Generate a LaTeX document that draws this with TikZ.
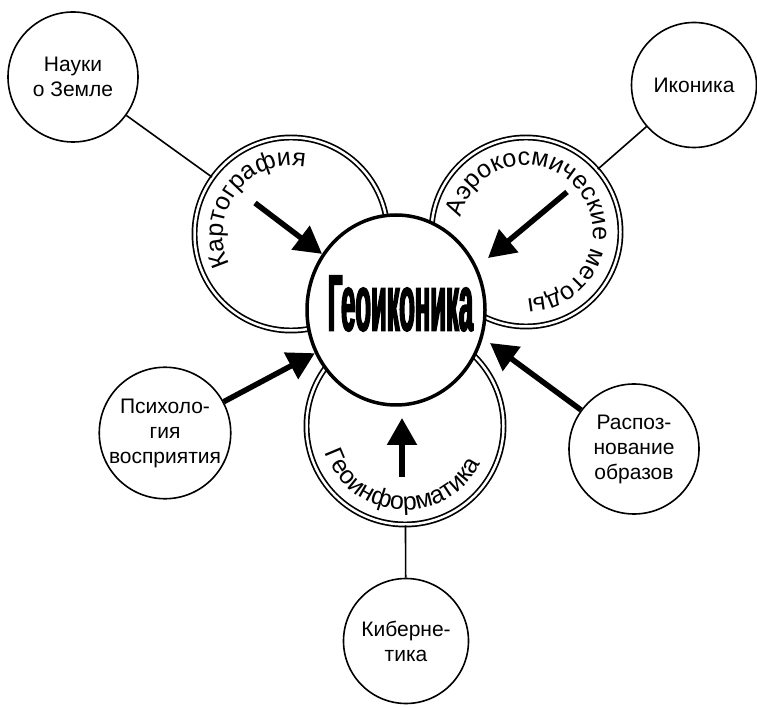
\documentclass[tikz,border=0pt]{standalone}
\usepackage{fontspec}
\setmainfont{Liberation Sans}
\newfontfamily\hubfont[FakeStretch=0.32,FakeBold=1.8]{Liberation Sans Bold}
\usepackage{tikz}
\usetikzlibrary{
  arrows.meta,
  positioning,
  shapes.geometric,
  decorations.text,
  calc
}
\newcommand\fieldfont{\fontsize{21}{25}\selectfont}
\newcommand\ringfont{\fontsize{25}{25}\selectfont}

\begin{document}
\begin{tikzpicture}[
    x=1pt, y=1pt,
    % Styles
    field/.style={
        circle, draw, line width=1.6pt,
        fill=white, text=black,
        minimum size=#1, inner sep=0pt,
        font=\fieldfont,
        align=center
    },
    ring/.style={
        circle, draw, line width=1.7pt,
        double=white, double distance=2.5pt,
        fill=white,
        minimum size=#1, inner sep=0pt
    },
    hub/.style={
        ellipse, draw, line width=3.5pt,
        fill=white,
        minimum width=178pt, minimum height=190pt,
        inner sep=0pt
    },
    link/.style={line width=1.6pt},
    push/.style={line width=5.5pt, -{Triangle[length=27pt,width=29pt]}},
    ringtext/.style={
        decorate,
        decoration={text along path, text align=center, text={|\ringfont|#1}}
    }
]
\useasboundingbox (0,0) rectangle (757,707);

% ── OUTER FIELDS ──
\node[field=130] (nauki) at (73,630) {Науки\\о Земле};
\node[field=125] (ikon) at (694,622) {Иконика};
\node[field=123] (psy) at (165,274) {Психоло-\\гия\\восприятия};
\node[field=130] (rasp) at (634,258) {Распоз-\\нование\\образов};
\node[field=125] (kiber) at (406,66) {Киберне-\\тика};

% ── RINGS ──
\node[ring=193] (karto) at (291,473) {};
\node[ring=189] (aero) at (526,475) {};
\node[ring=197] (geoinf) at (405,281) {};

\draw[link] (nauki) -- (karto);
\draw[link] (ikon) -- (aero);
\draw[link] (kiber) -- (geoinf);

\path[ringtext=Картография] ($(karto)+(207:68)$) arc[start angle=207, end angle=78, radius=68];
\path[ringtext=Аэрокосмические методы] ($(aero)+(164:67)$) arc[start angle=164, end angle=-86, radius=67];
\path[ringtext=Геоинформатика] ($(geoinf)+(197:84)$) arc[start angle=197, end angle=335, radius=84];

% ── HUB ──
\node[hub, label={[font=\hubfont\fontsize{80}{80}\selectfont, xshift=4.5pt, yshift=6.5pt]center:Геоиконика}] (geo) at (396,397) {};

% ── ARROWS ──
\coordinate (kartoTail) at (255,504);
\coordinate (aeroTail) at (567,515);
\coordinate (aeroTip) at (488,449);
\coordinate (infTail) at (402,230);
\coordinate (infTip) at (402,289);
\coordinate (raspTip) at (490,364);

\draw[push] (kartoTail) -- (geo);
\draw[push] (aeroTail) -- (aeroTip);
\draw[push] (infTail) -- (infTip);
\draw[push] (psy) -- (geo);
\draw[push] (rasp) -- (raspTip);

\end{tikzpicture}
\end{document}
